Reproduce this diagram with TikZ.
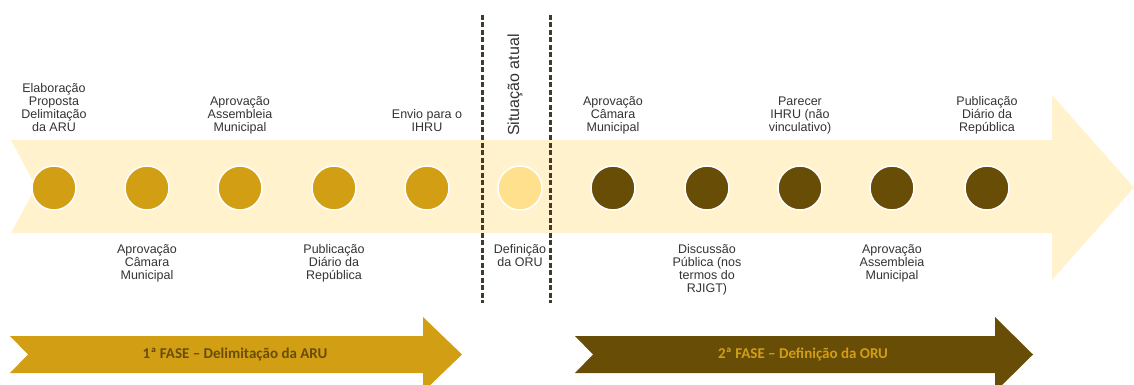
\documentclass[tikz,border=0pt]{standalone}
\usepackage{fontspec}
\setmainfont{Liberation Sans}
\newfontfamily\calib{Carlito}
\definecolor{pale}{HTML}{FFF2CC}
\definecolor{gold}{HTML}{D29F14}
\definecolor{brown}{HTML}{684D07}
\definecolor{now}{HTML}{FFE08C}
\definecolor{txt}{HTML}{333333}
\definecolor{dash}{HTML}{423A2A}
\begin{document}
\begin{tikzpicture}[x=1pt,y=-1pt,
  lbl/.style={font=\fontsize{12.5}{13}\selectfont, text=txt, align=center, inner sep=0pt, anchor=base},
  dot/.style={circle, minimum size=44pt, inner sep=0pt, draw=white, line width=1.5pt},
  dashline/.style={draw=dash, line width=3pt, dash pattern=on 5pt off 2.5pt},
  phase/.style={font=\calib\bfseries\fontsize{15}{17}\selectfont, inner sep=0pt}
]
\useasboundingbox (0,0) rectangle (1134,385);
\clip (0,0) rectangle (1134,385);
% big timeline arrow
\fill[pale] (11,140) -- (1052,140) -- (1052,95) -- (1134,187.5) -- (1052,280) -- (1052,233) -- (11,233) -- (36,187) -- cycle;
% dashed separators
\coordinate (s1t) at (482,15); \coordinate (s1b) at (482,303);
\coordinate (s2t) at (550,15); \coordinate (s2b) at (550,303);
\draw[dashline] (s1t) -- (s1b);
\draw[dashline] (s2t) -- (s2b);
% circles
\foreach \i/\x in {1/54,2/147,3/240,4/334,5/427}
  \node[dot, fill=gold] (d\i) at (\x,188) {};
\node[dot, fill=now] (d6) at (520,188) {};
\foreach \i/\x in {7/613,8/707,9/800,10/892,11/987}
  \node[dot, fill=brown] (d\i) at (\x,188) {};
% labels above (base = last line baseline)
\node[lbl] (l1) at (54,131.5) {Elaboração\\Proposta\\Delimitação\\da ARU};
\node[lbl] (l3) at (240,131.5) {Aprovação\\Assembleia\\Municipal};
\node[lbl] (l5) at (427,131.5) {Envio para o\\IHRU};
\node[lbl] (l7) at (613,131.5) {Aprovação\\Câmara\\Municipal};
\node[lbl] (l9) at (800,131.5) {Parecer\\IHRU (não\\vinculativo)};
\node[lbl] (l11) at (987,131.5) {Publicação\\Diário da\\República};
% labels below
\node[lbl] (l2) at (147,279.5) {Aprovação\\Câmara\\Municipal};
\node[lbl] (l4) at (334,279.5) {Publicação\\Diário da\\República};
\node[lbl] (l6) at (520,266.5) {Definição\\da ORU};
\node[lbl] (l8) at (707,292.5) {Discussão\\Pública (nos\\termos do\\RJIGT)};
\node[lbl] (l10) at (892,279.5) {Aprovação\\Assembleia\\Municipal};
% current situation
\node[font=\fontsize{16}{18}\selectfont, text=txt, rotate=90, inner sep=0pt] (now) at (515,85) {Situação atual};
% phase arrows
\fill[gold] (10,336) -- (423,336) -- (423,317) -- (462,354.5) -- (423,392) -- (423,373) -- (10,373) -- (28,354.5) -- cycle;
\node[phase, text=brown] (f1) at (235,354.5) {1ª FASE – Delimitação da ARU};
\fill[brown] (575,336) -- (995,336) -- (995,317) -- (1033,354.5) -- (995,392) -- (995,373) -- (575,373) -- (593,354.5) -- cycle;
\node[phase, text=gold] (f2) at (803,354.5) {2ª FASE – Definição da ORU};
\end{tikzpicture}
\end{document}
